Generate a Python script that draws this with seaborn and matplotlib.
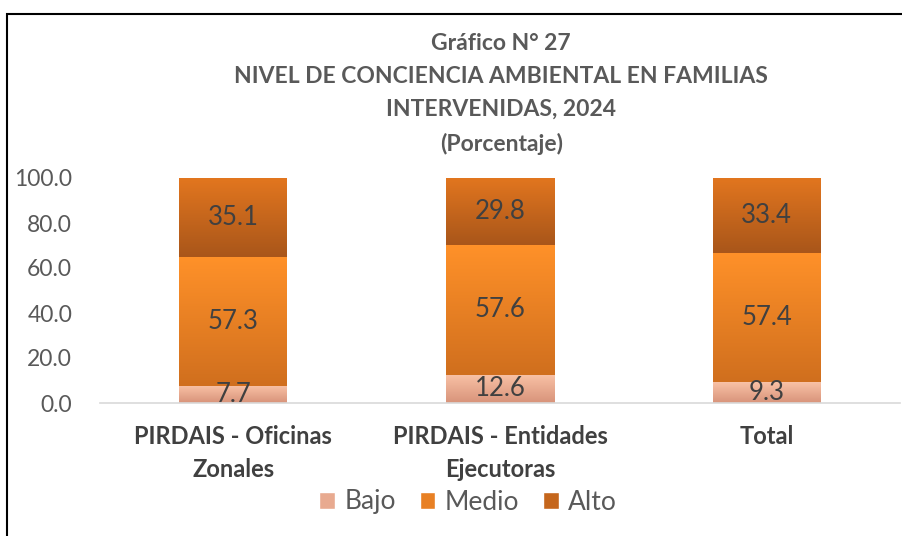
import numpy as np
import pandas as pd
import matplotlib
matplotlib.use("Agg")
import matplotlib.pyplot as plt
import matplotlib.colors as mcolors
from matplotlib.patches import Rectangle
import seaborn as sns

# data
categories = ["PIRDAIS - Oficinas\nZonales", "PIRDAIS - Entidades\nEjecutoras", "Total"]
levels = ["Bajo", "Medio", "Alto"]
bajo = [7.7, 12.6, 9.3]
medio = [57.3, 57.6, 57.4]
alto = [35.1, 29.8, 33.4]

# gradient colours (top, bottom) for each level
grad = {
    "Bajo": ("#F9C2A6", "#D8937A"),
    "Medio": ("#FF9129", "#D06F1E"),
    "Alto": ("#E2761F", "#A9561A"),
}

sns.set_theme(style="white")
plt.rcParams["font.family"] = ["Lato", "DejaVu Sans"]

df = pd.DataFrame({"cat": categories, "Bajo": bajo, "Medio": medio, "Alto": alto})
df["c_bajo"] = df["Bajo"]
df["c_medio"] = df["Bajo"] + df["Medio"]
df["c_alto"] = df["c_medio"] + df["Alto"]

fig = plt.figure(figsize=(9.03, 5.36), dpi=100)
ax = fig.add_axes([100 / 903, 133 / 536, 800 / 903, 225 / 536])

# cumulative bars, drawn tallest first
for col, lev in [("c_alto", "Alto"), ("c_medio", "Medio"), ("c_bajo", "Bajo")]:
    sns.barplot(data=df, x="cat", y=col, color=grad[lev][0], width=0.405,
                ax=ax, errorbar=None, saturation=1)

# turn the overlapping bars into real segments with a vertical gradient
bottoms = {"Alto": df["c_medio"].values, "Medio": df["Bajo"].values, "Bajo": np.zeros(3)}
values = {"Alto": df["Alto"].values, "Medio": df["Medio"].values, "Bajo": df["Bajo"].values}
for cont, lev in zip(ax.containers, ["Alto", "Medio", "Bajo"]):
    cmap = mcolors.LinearSegmentedColormap.from_list(lev, [grad[lev][1], grad[lev][0]])
    for i, p in enumerate(cont.patches):
        b = bottoms[lev][i]
        h = values[lev][i]
        p.set_y(b)
        p.set_height(h)
        p.set_edgecolor("none")
        x0 = p.get_x()
        w = p.get_width()
        im = ax.imshow(np.linspace(0, 1, 100).reshape(-1, 1), cmap=cmap,
                       extent=[x0, x0 + w, b, b + h], origin="lower",
                       aspect="auto", zorder=p.get_zorder() + 0.1)
        im.set_clip_path(p)
        ax.text(x0 + w / 2, b + h / 2, f"{h:.1f}", ha="center", va="center",
                fontsize=18.5, color="#404040", zorder=5)

ax.set_xlim(-0.5, 2.5)
ax.set_ylim(0, 100)
ax.set_yticks(np.arange(0, 101, 20))
ax.set_yticklabels([f"{v:.1f}" for v in np.arange(0, 101, 20)], fontsize=16.5, color="#595959")
ax.set_xticks(range(3))
ax.set_xticklabels(categories, fontsize=17, fontweight="bold", color="#404040", linespacing=1.5)
ax.tick_params(axis="x", length=0, pad=16)
ax.tick_params(axis="y", length=0, pad=20)
ax.set_xlabel("")
ax.set_ylabel("")
for s in ["left", "right", "top"]:
    ax.spines[s].set_visible(False)
ax.spines["bottom"].set_color("#D9D9D9")
ax.spines["bottom"].set_linewidth(1.2)
ax.set_facecolor("none")

fig.text(0.555, 1 - 94 / 536,
         "Gráfico N° 27\nNIVEL DE CONCIENCIA AMBIENTAL EN FAMILIAS\nINTERVENIDAS, 2024\n(Porcentaje)",
         ha="center", va="center", fontsize=16.5, fontweight="bold", color="#595959",
         linespacing=1.7)

handles = [Rectangle((0, 0), 1, 1, facecolor=mcolors.to_hex(
    np.mean([mcolors.to_rgb(grad[l][0]), mcolors.to_rgb(grad[l][1])], axis=0)))
    for l in levels]
fig.legend(handles, levels, loc="center", bbox_to_anchor=(468 / 903, 1 - 502 / 536),
           ncol=3, frameon=False, fontsize=19, handlelength=0.6, handleheight=0.6,
           handletextpad=0.35, columnspacing=0.9, labelcolor="#595959")

# outer frame like the source document
fig.patches.append(Rectangle((7 / 903, -0.1), 1.2, 1 - 14 / 536 + 0.1,
                             transform=fig.transFigure, fill=False,
                             edgecolor="black", linewidth=1.5))

fig.savefig("out.png", dpi=100)
